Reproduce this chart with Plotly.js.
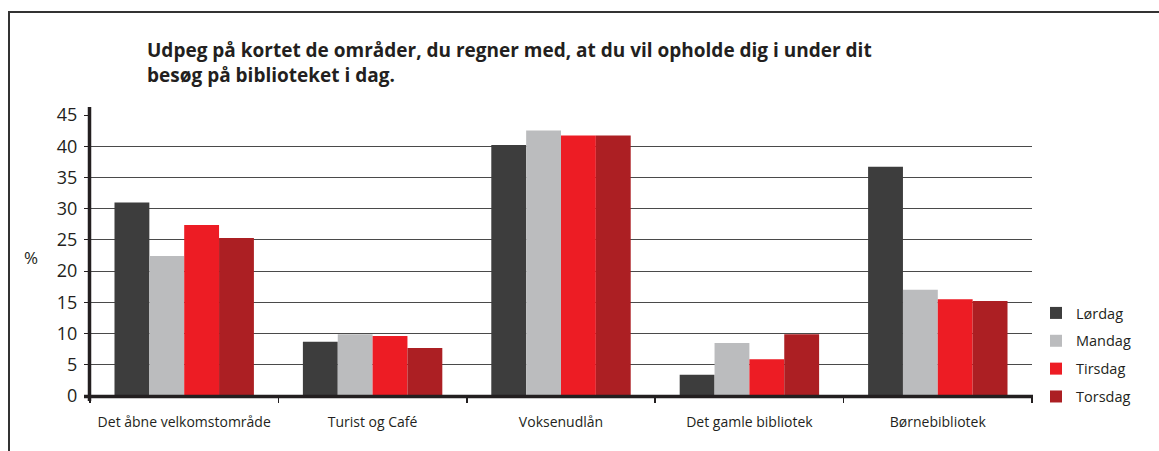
<!DOCTYPE html>
<html>
<head>
<meta charset="utf-8">
<script src="https://cdn.plot.ly/plotly-3.0.1.min.js"></script>
<style>
  html, body { margin: 0; padding: 0; background: #fff; }
  #chart { width: 1159px; height: 451px; }
</style>
</head>
<body>
<div id="chart"></div>
<script>
const categories = ["Det åbne velkomstområde", "Turist og Café", "Voksenudlån", "Det gamle bibliotek", "Børnebibliotek"];
const seriesNames = ["Lørdag", "Mandag", "Tirsdag", "Torsdag"];
const lordag  = [31.0, 8.7, 40.2, 3.4, 36.7];
const mandag  = [22.4, 9.9, 42.5, 8.5, 17.0];
const tirsdag = [27.4, 9.6, 41.7, 5.9, 15.5];
const torsdag = [25.3, 7.7, 41.7, 9.9, 15.2];
const colors = ["#3d3d3d", "#bbbcbe", "#ed1c24", "#ac1f23"];
const yTickVals = [0, 5, 10, 15, 20, 25, 30, 35, 40, 45];
const titleText = "Udpeg på kortet de områder, du regner med, at du vil opholde dig i under dit<br>besøg på biblioteket i dag.";
const yTitle = "%";

const seriesValues = [lordag, mandag, tirsdag, torsdag];
const FONT = "'Open Sans', 'Noto Sans', sans-serif";

const traces = seriesNames.map((name, i) => ({
  type: "bar",
  name: name,
  x: categories,
  y: seriesValues[i],
  marker: { color: colors[i], line: { width: 0 } },
  legendgroup: "g" + i,
  hoverinfo: "x+y+name"
}));

// plot area: x 90..1032, y 115..396
const L = 90, R = 1032, T = 115, B = 396;
const W = 1159, H = 451;
const px = v => (v - L) / (R - L);
const py = v => (B - v) / (B - T);

const layout = {
  width: W, height: H,
  margin: { l: L, r: W - R, t: T, b: H - B, pad: 0 },
  paper_bgcolor: "#ffffff",
  plot_bgcolor: "#ffffff",
  font: { family: FONT, color: "#231f20" },
  barmode: "group",
  bargap: 0.26,
  bargroupgap: 0,
  title: {
    text: titleText,
    font: { family: FONT, size: 19, color: "#231f20", weight: "bold" },
    xref: "container", yref: "container",
    x: 147 / W, xanchor: "left",
    y: 1 - 57 / H, yanchor: "top"
  },
  xaxis: {
    type: "category",
    showgrid: false,
    showline: false,
    zeroline: false,
    ticks: "outside",
    tickson: "boundaries",
    ticklen: 6,
    tickwidth: 1.5,
    tickcolor: "#231f20",
    tickfont: { family: FONT, size: 14, color: "#231f20" },
    ticklabelstandoff: 16
  },
  yaxis: {
    range: [0, 45],
    tickmode: "array",
    tickvals: yTickVals,
    ticktext: yTickVals.map(String),
    showgrid: true,
    gridcolor: "#4a4a4a",
    gridwidth: 1.2,
    showline: false,
    zeroline: false,
    ticks: "outside",
    ticklen: 5,
    tickwidth: 1,
    tickcolor: "#231f20",
    tickfont: { family: FONT, size: 18, color: "#231f20" },
    ticklabelstandoff: 3
  },
  legend: {
    x: px(1036), xanchor: "left",
    y: py(297), yanchor: "top",
    font: { family: FONT, size: 14.5, color: "#231f20" },
    traceorder: "grouped",
    tracegroupgap: 6,
    itemwidth: 30,
    bgcolor: "rgba(0,0,0,0)"
  },
  annotations: [
    { text: yTitle, xref: "paper", yref: "paper", x: px(31), y: py(257), xanchor: "center", yanchor: "middle",
      showarrow: false, font: { family: FONT, size: 17, color: "#231f20" } }
  ],
  shapes: [
    // y axis line
    { type: "line", xref: "paper", yref: "paper", x0: px(89.5), x1: px(89.5), y0: py(107), y1: py(401),
      line: { color: "#231f20", width: 3.5 }, layer: "above" },
    // x axis line
    { type: "line", xref: "paper", yref: "paper", x0: px(84), x1: px(1033), y0: py(396.5), y1: py(396.5),
      line: { color: "#231f20", width: 3.5 }, layer: "above" },
    // outer frame top
    { type: "line", xref: "paper", yref: "paper", x0: px(8), x1: px(1159), y0: py(12), y1: py(12),
      line: { color: "#333333", width: 2 } },
    // outer frame left
    { type: "line", xref: "paper", yref: "paper", x0: px(9), x1: px(9), y0: py(12), y1: py(451),
      line: { color: "#333333", width: 2 } }
  ]
};

Plotly.newPlot("chart", traces, layout, { displayModeBar: false, staticPlot: true });
</script>
</body>
</html>
